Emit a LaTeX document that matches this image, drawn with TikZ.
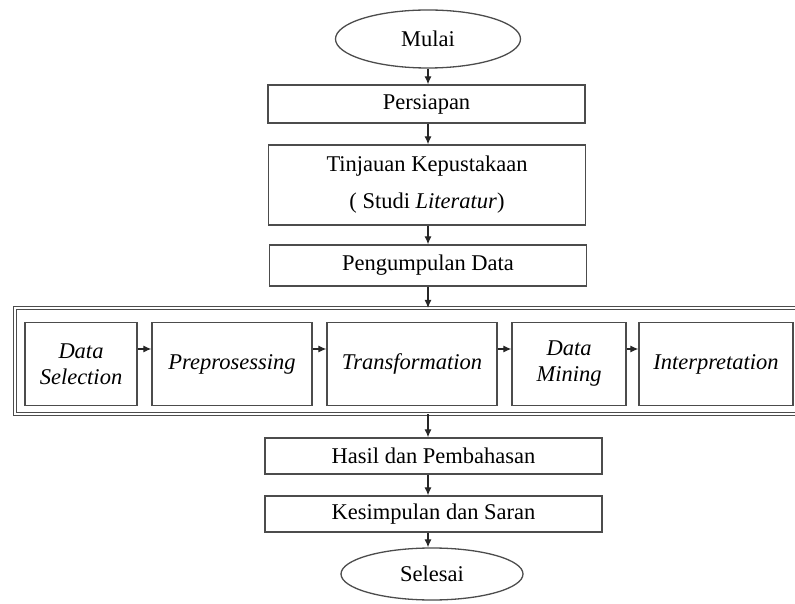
\documentclass[tikz,border=0pt]{standalone}
\usepackage{fontspec}
\setmainfont{Liberation Serif}
\usetikzlibrary{shapes.geometric,arrows.meta}

\tikzset{
    box/.style={draw=black!70,line width=1.3pt,rectangle,align=center},
    oval/.style={draw=black!70,line width=1.3pt,ellipse},
    arr/.style={draw=black!85,line width=1.2pt,-{Latex[length=8pt,width=7pt]}},
}

\begin{document}
\begin{tikzpicture}[x=1pt,y=1pt,font=\fontsize{22.5}{26}\selectfont]
        \useasboundingbox (0,0) rectangle (795,603);
        \node[oval,minimum width=185,minimum height=58] (mulai) at (428,564){Mulai};
        \node[box,minimum width=317,minimum height=38] (persiapan) at (426.5,499){Persiapan};
        \node[box,minimum width=317,minimum height=80] (tinjauan) at (427,418){Tinjauan Kepustakaan\\[11pt]( Studi \textit{Literatur})};
        \node[box,minimum width=317,minimum height=41] (kumpul) at (428,337.5){Pengumpulan Data};
        % tahapan KDD
        \draw[draw=black!70,line width=1pt,double=white,double distance=1.8pt] (15,189) rectangle (800,295);
        \coordinate (kddtop) at (428,295);
        \coordinate (kddbot) at (428,189);
        \node[box,minimum width=112,minimum height=83] (selection) at (81,239){\textit{Data}\\\textit{Selection}};
        \node[box,minimum width=160,minimum height=83] (prepro) at (232,239){\textit{Preprosessing}};
        \node[box,minimum width=170,minimum height=83] (transform) at (412,239){\textit{Transformation}};
        \node[box,minimum width=114,minimum height=83] (mining) at (569,239){\textit{Data}\\\textit{Mining}};
        \node[box,minimum width=154,minimum height=83] (interpret) at (716,239){\textit{Interpretation}};
        \node[box,minimum width=337,minimum height=36] (hasil) at (433.5,147){Hasil dan Pembahasan};
        \node[box,minimum width=337,minimum height=36] (simpulan) at (433.5,89){Kesimpulan dan Saran};
        \node[oval,minimum width=182,minimum height=52] (selesai) at (432,29){Selesai};

        \draw[arr] (mulai.south) -- (mulai.south |- persiapan.north);
        \draw[arr] (mulai.south |- persiapan.south) -- (mulai.south |- tinjauan.north);
        \draw[arr] (mulai.south |- tinjauan.south) -- (mulai.south |- kumpul.north);
        \draw[arr] (mulai.south |- kumpul.south) -- (kddtop);
        \draw[arr] (kddbot) -- (kddbot |- hasil.north);
        \draw[arr] (kddbot |- hasil.south) -- (kddbot |- simpulan.north);
        \draw[arr] (kddbot |- simpulan.south) -- (kddbot |- selesai.north);
        \draw[arr] ([yshift=15]selection.east) -- ([yshift=15]prepro.west);
        \draw[arr] ([yshift=15]prepro.east) -- ([yshift=15]transform.west);
        \draw[arr] ([yshift=15]transform.east) -- ([yshift=15]mining.west);
        \draw[arr] ([yshift=15]mining.east) -- ([yshift=15]interpret.west);
\end{tikzpicture}
\end{document}
